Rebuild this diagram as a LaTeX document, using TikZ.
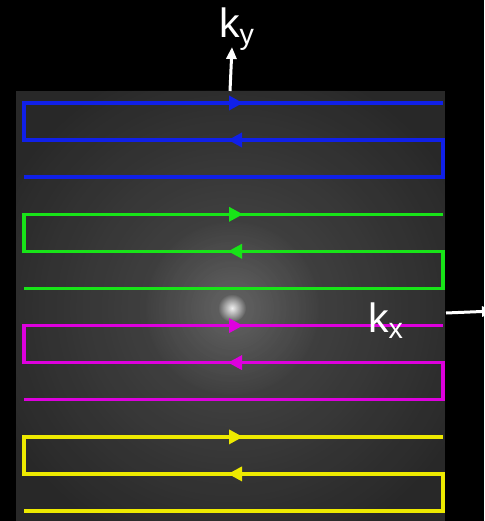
\documentclass[tikz,border=0pt]{standalone}
\usepackage{fontspec}
\setmainfont{Liberation Sans}
\usetikzlibrary{arrows.meta, decorations.markings, fadings}
\definecolor{scangray}{RGB}{40,40,40}
\definecolor{trajblue}{RGB}{16,32,232}
\definecolor{trajgreen}{RGB}{24,228,24}
\definecolor{trajmagenta}{RGB}{222,0,222}
\definecolor{trajyellow}{RGB}{238,234,0}
\tikzfading[name=centreglow, inner color=transparent!0, outer color=transparent!100]
\tikzset{
	traj/.style={line width=3.4pt, line join=miter,
		postaction={
			decorate,
			decoration={
				markings,
				mark=at position 671pt with {\arrow{Triangle[length=14pt, width=14pt]}},
				mark=at position 1131pt with {\arrow{Triangle[length=14pt, width=14pt]}}
			}
		}
	},
	axis/.style={white, line width=3pt, -{Triangle[length=12pt, width=10pt]}},
	axlabel/.style={white, inner sep=0pt, anchor=base west, font=\fontsize{41}{41}\selectfont}
}

\begin{document}
\begin{tikzpicture}[x=1pt, y=-1pt]
	\useasboundingbox (0, 0) rectangle (484, 521);
	\clip (0, 0) rectangle (484, 521);
	\fill[black] (0, 0) rectangle (484, 521);
	
	% k-space image with bright centre
	\fill[scangray] (16, 91) rectangle (445, 521);
	\begin{scope}
		\clip (16, 91) rectangle (445, 521);
		\fill[white, path fading=centreglow, opacity=0.16] (232, 308) circle (260);
		\fill[white, path fading=centreglow, opacity=0.14] (232, 308) circle (90);
		\fill[white, path fading=centreglow, opacity=0.9] (232, 308) circle (14);
	\end{scope}
	
	% raster trajectories
	\foreach \c/\y in {trajblue/103, trajgreen/214.3, trajmagenta/325.6, trajyellow/436.9}{
		\draw[traj, \c] (24, \y+74) -- (443, \y+74) -- (443, \y+37)
			-- (24, \y+37) -- (24, \y) -- (443, \y);
	}
	
	% axes
	\coordinate (kyfoot) at (230, 91);
	\coordinate (kytip) at (232, 47);
	\coordinate (kxfoot) at (446, 313);
	\coordinate (kxtip) at (494, 311);
	\draw[axis] (kyfoot) -- (kytip);
	\draw[axis] (kxfoot) -- (kxtip);
	\node[axlabel] (ky) at (219, 38) {k\textsubscript{y}};
	\node[axlabel] (kx) at (368, 332) {k\textsubscript{x}};
\end{tikzpicture}
\end{document}
